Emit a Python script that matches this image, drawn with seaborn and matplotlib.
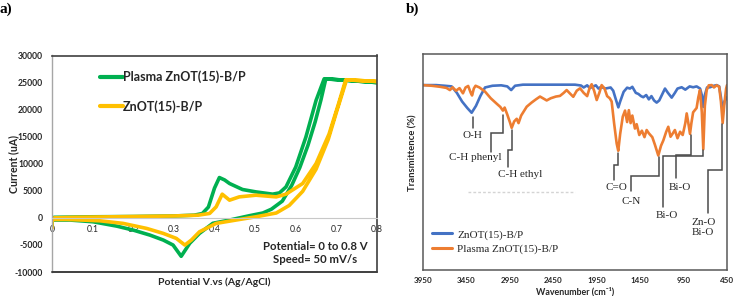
import matplotlib
matplotlib.use("Agg")
import matplotlib.pyplot as plt
import numpy as np
import pandas as pd
import seaborn as sns

# ---------------- data: panel a (cyclic voltammetry) ----------------
cv_labels = ["Plasma ZnOT(15)-B/P", "ZnOT(15)-B/P"]
cv_colors = ["#00B050", "#FFC000"]

cv_plasma_E = [0.000, 0.000, 0.005, 0.05, 0.10, 0.20, 0.30, 0.35, 0.37, 0.385,
               0.400, 0.412, 0.425, 0.437, 0.469, 0.502, 0.543, 0.560, 0.576, 0.600,
               0.625, 0.650, 0.670, 0.800, 0.674, 0.662, 0.648, 0.630, 0.610, 0.590,
               0.567, 0.540, 0.519, 0.486, 0.437, 0.396, 0.363, 0.339, 0.318, 0.298,
               0.274, 0.241, 0.200, 0.159, 0.101, 0.044, 0.000]
cv_plasma_I = [-1500, -400, 100, 150, 200, 250, 350, 500, 800, 2000,
               5500, 7450, 7000, 6350, 5240, 4800, 4380, 4620, 5720, 9400,
               14940, 21700, 25700, 25000, 25700, 21800, 17800, 13400, 9300, 6000,
               3100, 1600, 900, 400, -400, -1000, -2870, -4700, -7100, -5020,
               -4100, -3180, -2260, -1520, -720, -400, -400]

cv_pristine_E = [0.000, 0.000, 0.005, 0.05, 0.10, 0.20, 0.30, 0.36, 0.388, 0.404,
                 0.419, 0.437, 0.461, 0.502, 0.552, 0.576, 0.617, 0.650, 0.682, 0.705,
                 0.723, 0.800, 0.725, 0.700, 0.680, 0.650, 0.617, 0.584, 0.552, 0.502,
                 0.453, 0.404, 0.363, 0.343, 0.327, 0.306, 0.274, 0.233, 0.175, 0.118,
                 0.036, 0.000]
cv_pristine_I = [-1900, -300, 0, 100, 150, 250, 350, 500, 820, 2030,
                 4380, 3270, 3880, 4190, 3880, 4380, 6350, 10030, 15500, 21000,
                 25520, 25200, 25500, 19500, 14500, 9000, 4900, 2300, 900, 200,
                 -400, -1020, -2570, -4100, -5020, -3790, -2870, -1950, -1020, -540,
                 -290, -300]

cv_xticks = [0, 0.1, 0.2, 0.3, 0.4, 0.5, 0.6, 0.7, 0.8]
cv_xticklabels = ["0", "0.1", "0.2", "0.3", "0.4", "0.5", "0.6", "0.7", "0.8"]
cv_yticks = [-10000, -5000, 0, 5000, 10000, 15000, 20000, 25000, 30000]

# ---------------- data: panel b (FTIR) ----------------
ftir_labels = ["ZnOT(15)-B/P", "Plasma ZnOT(15)-B/P"]
ftir_colors = ["#4472C4", "#ED7D31"]

ftir_wn_pristine = [3950, 3800, 3700, 3620, 3560, 3500, 3440, 3390, 3340, 3290,
                    3236, 3150, 3050, 2980, 2935, 2890, 2800, 2600, 2400, 2200,
                    2130, 2100, 2060, 2030, 2000, 1960, 1930, 1900, 1850, 1790,
                    1760, 1730, 1701, 1680, 1640, 1600, 1567, 1540, 1500, 1470,
                    1440, 1414, 1380, 1350, 1320, 1290, 1260, 1230, 1200, 1164,
                    1130, 1087, 1050, 1020, 972, 930, 880, 840, 800, 760,
                    740, 723, 705, 680, 646, 600, 569, 540, 520, 500,
                    480, 450]
ftir_T_pristine = [85.6, 85.6, 85.3, 85.0, 82.0, 78.0, 75.0, 72.8, 76.0, 80.5,
                   84.5, 85.3, 85.5, 85.0, 83.3, 85.3, 85.8, 85.8, 85.8, 85.8,
                   85.4, 84.5, 85.5, 84.2, 84.8, 85.5, 84.0, 84.8, 84.0, 84.5,
                   83.0, 79.0, 75.3, 78.0, 82.5, 84.4, 84.0, 84.8, 82.0, 81.5,
                   80.5, 80.0, 81.0, 79.0, 80.5, 78.5, 77.5, 78.5, 81.0, 84.0,
                   82.0, 79.8, 82.0, 84.0, 84.6, 83.5, 85.0, 84.6, 85.0, 84.0,
                   81.0, 75.5, 81.0, 84.5, 84.6, 85.3, 85.6, 85.0, 80.0, 73.8,
                   78.0, 80.0]

ftir_wn_plasma = [3950, 3850, 3750, 3680, 3640, 3610, 3570, 3530, 3490, 3460,
                  3430, 3400, 3385, 3365, 3345, 3300, 3236, 3170, 3102, 3060,
                  3030, 3010, 2980, 2950, 2929, 2900, 2871, 2850, 2820, 2756,
                  2700, 2650, 2603, 2560, 2526, 2480, 2420, 2373, 2330, 2296,
                  2260, 2220, 2180, 2142, 2100, 2060, 2030, 2008, 1980, 1950,
                  1920, 1893, 1860, 1830, 1800, 1778, 1750, 1720, 1702, 1680,
                  1650, 1624, 1600, 1580, 1560, 1540, 1510, 1490, 1460, 1430,
                  1400, 1375, 1350, 1310, 1280, 1241, 1210, 1183, 1150, 1126,
                  1100, 1070, 1050, 1020, 990, 960, 930, 914, 895, 876,
                  860, 840, 800, 780, 761, 740, 723, 705, 684, 660,
                  626, 600, 570, 540, 520, 500, 480, 460, 450]
ftir_T_plasma = [85.6, 85.3, 84.8, 84.3, 83.3, 84.6, 83.0, 84.2, 81.8, 84.5,
                 85.2, 82.0, 80.8, 84.0, 85.3, 84.5, 82.6, 79.5, 77.0, 75.5,
                 73.8, 75.2, 72.0, 68.5, 65.8, 68.8, 70.0, 68.0, 71.5, 75.6,
                 77.5, 79.0, 80.3, 79.3, 78.5, 79.5, 80.3, 80.6, 82.0, 83.3,
                 81.8, 80.2, 83.0, 84.1, 82.0, 80.5, 84.5, 86.0, 83.0, 78.7,
                 82.0, 85.6, 84.0, 80.5, 79.5, 78.0, 68.0, 58.5, 55.2, 63.0,
                 71.0, 73.8, 68.5, 74.0, 68.0, 71.5, 65.5, 67.5, 62.5, 64.5,
                 61.5, 64.8, 63.3, 61.5, 58.0, 53.0, 57.5, 60.0, 64.0, 66.3,
                 61.7, 63.5, 64.8, 61.0, 64.0, 62.5, 68.0, 72.5, 68.0, 63.0,
                 68.0, 73.0, 75.0, 80.0, 83.3, 73.0, 55.9, 76.0, 83.3, 85.5,
                 85.6, 84.5, 85.5, 84.8, 78.0, 68.0, 77.0, 84.0, 85.6]

ftir_xticks = [3950, 3450, 2950, 2450, 1950, 1450, 950, 450]

# peak assignment annotations: label, leader path (wavenumber, T), label position
ann_texts = ["O-H", "C-H phenyl", "C-H ethyl", "C=O", "C-N", "Bi-O", "Bi-O", "Zn-O\nBi-O"]
ann_path_wn = [[3378, 3378], [3032, 3032, 3167, 3167], [2929, 2929, 2968, 2968],
               [1702, 1702, 1751, 1751], [1233, 1233, 1559, 1559], [723, 723, 1190, 1190],
               [868, 868, 1041, 1041], [511, 511, 669, 669]]
ann_path_T = [[70.8, 65.7], [71.8, 63.3, 63.3, 54.8], [64.8, 55.6, 55.6, 47.7],
              [54.2, 48.6, 48.6, 41.7], [52.3, 43.5, 43.5, 36.6], [55.6, 52.8, 52.8, 29.2],
              [62.5, 53.2, 53.2, 42.6], [67.6, 46.3, 46.3, 26.4]]
ann_text_wn = [3378, 3351, 2833, 1720, 1555, 1144, 991, 723]
ann_text_T = [62.5, 51.9, 44.0, 38.3, 31.9, 25.0, 38.3, 19.7]

# ---------------- style ----------------
sns.set_theme(style="white")
plt.rcParams["font.family"] = ["Lato", "DejaVu Sans"]
SERIF = ["Liberation Serif", "DejaVu Serif"]

fig = plt.figure(figsize=(7.34, 2.96), dpi=100)
axA = fig.add_axes([52 / 734, 24 / 296, 325 / 734, 216.5 / 296])
axB = fig.add_axes([423 / 734, 26 / 296, 304 / 734, 216 / 296])

# ---------------- panel a ----------------
cv_df = pd.concat([
    pd.DataFrame({"E": cv_plasma_E, "I": cv_plasma_I, "sample": cv_labels[0]}),
    pd.DataFrame({"E": cv_pristine_E, "I": cv_pristine_I, "sample": cv_labels[1]}),
], ignore_index=True)
sns.lineplot(data=cv_df, x="E", y="I", hue="sample", hue_order=cv_labels,
             palette=cv_colors, sort=False, estimator=None, lw=2.6, ax=axA)
axA.set_xlim(0, 0.8)
axA.set_ylim(-10000, 30000)
axA.set_xticks(cv_xticks, cv_xticklabels)
axA.set_yticks(cv_yticks, [str(v) for v in cv_yticks])
axA.tick_params(axis="both", length=0, labelsize=6.2, colors="#262626")
axA.tick_params(axis="x", pad=5.0)
axA.tick_params(axis="y", pad=6.5)
for lbl in axA.get_xticklabels() + axA.get_yticklabels():
    lbl.set_fontweight("bold")
axA.spines["bottom"].set_position(("data", 0))
axA.spines["bottom"].set_color("#c8c8c8")
axA.spines["bottom"].set_linewidth(0.8)
axA.spines["left"].set_color("#a6a6a6")
axA.spines["left"].set_linewidth(1.0)
for s in ["top", "right"]:
    axA.spines[s].set_color("#3f3f3f")
    axA.spines[s].set_linewidth(1.2)
axA.axhline(-10000, color="#3f3f3f", lw=1.4, clip_on=False, zorder=5)

axA.set_xlabel("Potential V.vs (Ag/AgCl)", fontsize=7.5, fontweight="bold", color="#262626")
axA.xaxis.set_label_coords(0.5, -0.049)
axA.xaxis.label.set_va("center")
axA.set_ylabel("Current (uA)", fontsize=7.6, fontweight="bold", color="#262626")
axA.yaxis.set_label_coords(-0.117, 0.5)
axA.yaxis.label.set_va("center")

h, l = axA.get_legend_handles_labels()
legA = axA.legend(h, l, loc="upper left", bbox_to_anchor=(0.148, 0.93), frameon=False,
                  handlelength=1.85, handletextpad=0.0, labelspacing=1.35,
                  borderpad=0, borderaxespad=0,
                  prop={"weight": "bold", "size": 9})
for line in legA.get_lines():
    line.set_linewidth(3.0)

axA.text(0.809, 0.088, "Potential= 0 to 0.8 V\nSpeed= 50 mV/s", transform=axA.transAxes,
         ha="center", va="center", multialignment="center", fontsize=8.2,
         fontweight="bold", color="#262626", linespacing=1.25)

# ---------------- panel b ----------------
ftir_df = pd.concat([
    pd.DataFrame({"wn": ftir_wn_pristine, "T": ftir_T_pristine, "sample": ftir_labels[0]}),
    pd.DataFrame({"wn": ftir_wn_plasma, "T": ftir_T_plasma, "sample": ftir_labels[1]}),
], ignore_index=True)
sns.lineplot(data=ftir_df, x="wn", y="T", hue="sample", hue_order=ftir_labels,
             palette=ftir_colors, sort=False, estimator=None, lw=1.9, ax=axB)
axB.set_xlim(3950, 450)
axB.set_ylim(0, 100)
axB.set_xticks(ftir_xticks, [str(v) for v in ftir_xticks])
axB.set_yticks([])
axB.tick_params(axis="x", length=0, labelsize=5.8, pad=5, colors="#262626")
for lbl in axB.get_xticklabels():
    lbl.set_fontweight("bold")
for s in ["top", "right", "bottom", "left"]:
    axB.spines[s].set_color("#595959")
    axB.spines[s].set_linewidth(1.1)

axB.set_xlabel("Wavenumber (cm⁻¹)", fontsize=6.4, fontweight="bold", color="#262626")
axB.xaxis.set_label_coords(0.5, -0.1005)
axB.xaxis.label.set_va("center")
axB.set_ylabel("Transmittence (%)", fontsize=6.8, fontweight="bold", color="#262626")
axB.yaxis.set_label_coords(-0.032, 0.544)
axB.yaxis.label.set_va("center")

for txt, pw, pt, tw, tt in zip(ann_texts, ann_path_wn, ann_path_T, ann_text_wn, ann_text_T):
    axB.plot(pw, pt, color="#4a4a4a", lw=1.1, solid_joinstyle="miter", zorder=3)
    axB.text(tw, tt, txt, ha="center", va="center", family=SERIF, fontsize=8,
             color="#262626", linespacing=1.25)

axB.plot([3432, 2200], [36.3, 36.3], color="#d4d4d4", lw=1.0, ls=(0, (2, 1.5)), zorder=1)

h, l = axB.get_legend_handles_labels()
legB = axB.legend(h, l, loc="lower left", bbox_to_anchor=(0.03, 0.072), frameon=False,
                  handlelength=1.8, handletextpad=0.45, labelspacing=0.44,
                  borderpad=0, borderaxespad=0,
                  prop={"family": SERIF, "size": 8})
for line in legB.get_lines():
    line.set_linewidth(2.2)

# panel tags
fig.text(0.0 / 734, 1 - 9 / 296, "a)", ha="left", va="center", family=SERIF,
         fontsize=11, fontweight="bold", color="black")
fig.text(406 / 734, 1 - 9 / 296, "b)", ha="left", va="center", family=SERIF,
         fontsize=11, fontweight="bold", color="black")

fig.savefig("out.png", dpi=100)
